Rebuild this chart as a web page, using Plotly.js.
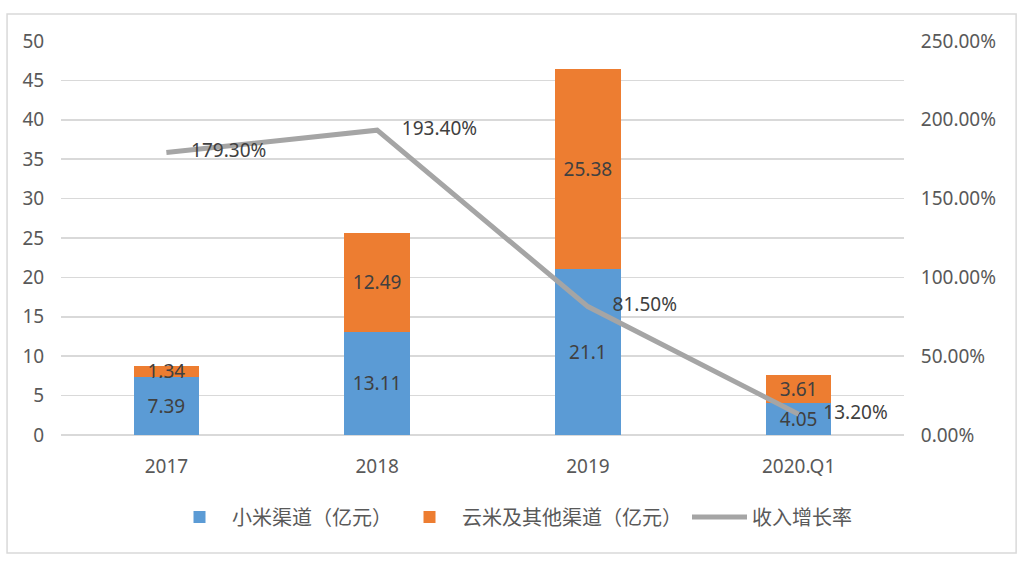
<!DOCTYPE html>
<html><head><meta charset="utf-8">
<script src="https://cdn.plot.ly/plotly-3.0.1.min.js"></script>
<style>html,body{margin:0;padding:0;background:#fff;}#chart{width:1025px;height:562px;}</style>
</head><body><div id="chart"></div>
<script>
const categories = ['2017', '2018', '2019', '2020.Q1'];
const xiaomiChannel = [7.39, 13.11, 21.1, 4.05];
const otherChannel = [1.34, 12.49, 25.38, 3.61];
const growthRate = [1.793, 1.934, 0.815, 0.132];
const seriesNames = ['小米渠道（亿元）', '云米及其他渠道（亿元）', '收入增长率'];

const FONT = 'Noto Sans, Noto Sans CJK SC, sans-serif';
const TXT = '#404040';
const PAD = '\u00a0\u00a0\u00a0\u00a0\u00a0';

const traces = [
  {type:'bar', name:seriesNames[0], x:categories, y:xiaomiChannel,
   marker:{color:'#5b9bd5'}, text:xiaomiChannel.map(String), textposition:'inside',
   insidetextanchor:'middle', textangle:0, constraintext:'none',
   textfont:{family:FONT, size:19, color:TXT}, hoverinfo:'none'},
  {type:'bar', name:seriesNames[1], x:categories, y:otherChannel,
   marker:{color:'#ed7d31'}, text:otherChannel.map(String), textposition:'inside',
   insidetextanchor:'middle', textangle:0, constraintext:'none',
   textfont:{family:FONT, size:19, color:TXT}, hoverinfo:'none'},
  {type:'scatter', mode:'lines+text', name:seriesNames[2], x:categories, y:growthRate,
   yaxis:'y2', line:{color:'#a5a5a5', width:5},
   texttemplate:PAD + '%{y:.2%}', textposition:'middle right',
   textfont:{family:FONT, size:19, color:TXT}, hoverinfo:'none', cliponaxis:false}
];

const layout = {
  width:1025, height:562,
  margin:{l:61, r:121, t:41, b:127},
  paper_bgcolor:'#fff', plot_bgcolor:'rgba(0,0,0,0)',
  barmode:'stack', bargap:0.69,
  font:{family:FONT, size:19, color:'#595959'},
  showlegend:true,
  legend:{orientation:'h', x:0.535, xanchor:'center', y:-0.208, yanchor:'middle',
          font:{family:FONT, size:20, color:'#595959'}, itemwidth:55, traceorder:'normal'},
  xaxis:{type:'category', showgrid:false, showline:false, zeroline:false,
         ticks:'outside', ticklen:14, tickcolor:'rgba(0,0,0,0)',
         tickfont:{family:FONT, size:19, color:'#595959'}},
  yaxis:{range:[0,50], dtick:5, tick0:0, showgrid:true, gridcolor:'#d9d9d9', gridwidth:1.5,
         zeroline:true, zerolinecolor:'#d9d9d9', zerolinewidth:1.5, showline:false,
         ticks:'outside', ticklen:12, tickcolor:'rgba(0,0,0,0)',
         tickfont:{family:FONT, size:19, color:'#595959'}},
  yaxis2:{overlaying:'y', side:'right', range:[0,2.5], dtick:0.5, tick0:0, tickformat:'.2%',
          showgrid:false, zeroline:false, showline:false,
          ticks:'outside', ticklen:12, tickcolor:'rgba(0,0,0,0)',
          tickfont:{family:FONT, size:19, color:'#595959'}},
  shapes:[{type:'rect', xref:'paper', yref:'paper', x0:-0.064, x1:1.133, y0:-0.2995, y1:1.0685,
           line:{color:'#d9d9d9', width:1.5}, fillcolor:'rgba(0,0,0,0)', layer:'below'}]
};

Plotly.newPlot('chart', traces, layout, {staticPlot:true, displayModeBar:false});
</script></body></html>
